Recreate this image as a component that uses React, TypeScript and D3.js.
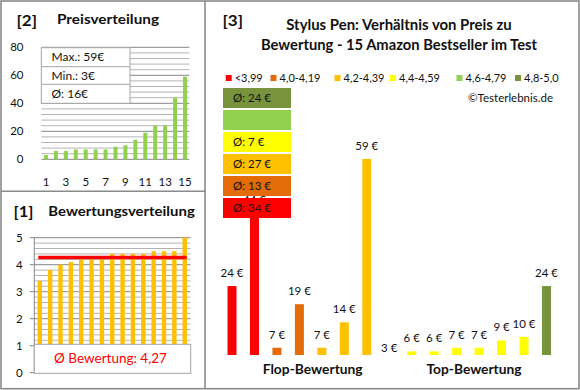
import React from "react";
import * as d3 from "d3";

// ---------- DATA ----------
const priceRank = [1, 2, 3, 4, 5, 6, 7, 8, 9, 10, 11, 12, 13, 14, 15];
const pricesSorted = [3, 6, 6, 7, 7, 7, 7, 9, 10, 14, 19, 24, 24, 44, 59];
const ratingsSorted = [3.4, 3.8, 4.0, 4.1, 4.2, 4.2, 4.2, 4.4, 4.4, 4.4, 4.4, 4.5, 4.5, 4.5, 5.0];
// products ordered by rating (flop -> top) with their price
const productRatings = [3.4, 3.8, 4.0, 4.1, 4.2, 4.2, 4.2, 4.4, 4.4, 4.4, 4.4, 4.5, 4.5, 4.5, 5.0];
const productPrices = [24, 44, 7, 19, 7, 14, 59, 3, 6, 6, 7, 7, 9, 10, 24];
const classLabels = ["<3,99", "4,0-4,19", "4,2-4,39", "4,4-4,59", "4,6-4,79", "4,8-5,0"];
const classThresholds = [4.0, 4.2, 4.4, 4.6, 4.8];
const classColors = ["#FF0000", "#E36C09", "#FFC000", "#FFFF00", "#92D050", "#77933C"];
const priceTicks = [0, 20, 40, 60, 80];
const ratingTicks = [0, 1, 2, 3, 4, 5];
const rankTickLabels = [1, 3, 5, 7, 9, 11, 13, 15];

// ---------- LAYOUT ----------
const W = 580;
const H = 390;
const FONT = "Lato, 'Open Sans', sans-serif";
const TXT = "#111";
const BORDER = "#8a8a8a";
const GRID_MINOR = "#b4b4b4";
const GRID_MAJOR = "#868686";

const fmt = (v: number, d = 0) => v.toFixed(d).replace(".", ",");

function PricePanel() {
  const x = d3.scalePoint<number>().domain(priceRank).range([46, 185]);
  const y = d3.scaleLinear().domain([0, 80]).range([159.3, 47.3]);
  const plotL = 41.3;
  const plotR = 189.3;
  const grid = d3.range(0, 81, 4);
  const mx = d3.max(pricesSorted)!;
  const mn = d3.min(pricesSorted)!;
  const avg = d3.mean(pricesSorted)!;
  const boxRows = [`Max.: ${mx}€`, `Min.: ${mn}€`, `Ø: ${Math.round(avg)}€`];
  const rowY = [47.7, 66.7, 84.3, 103.3];
  return (
    <g>
      <text x={16.5} y={25.5} fontSize={15.5} fontWeight="bold" fill={TXT} fontFamily={FONT} textLength={20.5} lengthAdjust="spacingAndGlyphs">[2]</text>
      <text x={57} y={24} fontSize={13} fontWeight="bold" fill={TXT} fontFamily={FONT} textLength={102} lengthAdjust="spacingAndGlyphs">Preisverteilung</text>
      {grid.map((g) => (
        <line key={g} x1={plotL} x2={plotR} y1={y(g)} y2={y(g)}
          stroke={g % 20 === 0 ? GRID_MAJOR : GRID_MINOR} strokeWidth={1} />
      ))}
      {priceTicks.map((t) => (
        <text key={t} x={23.5} y={y(t) + 4} fontSize={11.5} textAnchor="end" fill={TXT} fontFamily={FONT}>{t}</text>
      ))}
      {pricesSorted.map((v, i) => (
        <rect key={i} x={x(priceRank[i])! - 2} y={y(v)} width={4} height={y(0) - y(v)} fill="#92D050" />
      ))}
      {rankTickLabels.map((t) => (
        <text key={t} x={x(t)!} y={185.5} fontSize={11.5} textAnchor="middle" fill={TXT} fontFamily={FONT}>{t}</text>
      ))}
      <rect x={plotL} y={rowY[0]} width={88.7} height={rowY[3] - rowY[0]} fill="#fff" stroke="#a6a6a6" />
      {[1, 2].map((k) => (
        <line key={k} x1={plotL} x2={plotL + 88.7} y1={rowY[k]} y2={rowY[k]} stroke="#a6a6a6" />
      ))}
      {boxRows.map((t, k) => (
        <text key={k} x={51.5} y={(rowY[k] + rowY[k + 1]) / 2 + 4.2} fontSize={12} fill={TXT} fontFamily={FONT}>{t}</text>
      ))}
    </g>
  );
}

function RatingPanel() {
  const x = d3.scalePoint<number>().domain(priceRank).range([39.8, 184.7]);
  const y = d3.scaleLinear().domain([0, 5]).range([372.7, 237.7]);
  const plotL = 34.3;
  const plotR = 190.5;
  const grid = d3.range(0, 26).map((k) => k / 5);
  const avg = d3.mean(ratingsSorted)!;
  return (
    <g>
      <text x={13.5} y={216.5} fontSize={15.5} fontWeight="bold" fill={TXT} fontFamily={FONT} textLength={20} lengthAdjust="spacingAndGlyphs">[1]</text>
      <text x={48.3} y={215.5} fontSize={13} fontWeight="bold" fill={TXT} fontFamily={FONT} textLength={146.5} lengthAdjust="spacingAndGlyphs">Bewertungsverteilung</text>
      {grid.map((g, k) => (
        <line key={k} x1={plotL} x2={plotR} y1={y(g)} y2={y(g)}
          stroke={k % 5 === 0 ? GRID_MAJOR : GRID_MINOR} strokeWidth={1} />
      ))}
      <line x1={plotL} x2={plotL} y1={y(5)} y2={y(0)} stroke={GRID_MAJOR} />
      {ratingTicks.map((t) => (
        <g key={t}>
          <line x1={plotL - 4.5} x2={plotL} y1={y(t)} y2={y(t)} stroke={GRID_MAJOR} />
          <text x={19.3} y={y(t) + 4} fontSize={11.5} textAnchor="middle" fill={TXT} fontFamily={FONT}>{t}</text>
        </g>
      ))}
      {ratingsSorted.map((v, i) => (
        <rect key={i} x={x(priceRank[i])! - 2.2} y={y(v)} width={4.4} height={y(0) - y(v)} fill="#FFC000" />
      ))}
      <line x1={38.3} x2={186.7} y1={y(avg)} y2={y(avg)} stroke="#FF0000" strokeWidth={3.5} />
      <rect x={plotL} y={344.3} width={156.4} height={29} fill="#fff" stroke="#a6a6a6" />
      <text x={110.5} y={363} fontSize={13.5} textAnchor="middle" fill="#FF0000" fontFamily={FONT}>
        {`Ø Bewertung: ${fmt(avg, 2)}`}
      </text>
    </g>
  );
}

function MainPanel() {
  const x = d3.scalePoint<number>().domain(priceRank).range([232, 546.5]);
  const y = d3.scaleLinear().domain([5, 59]).range([355, 159]);
  const cls = d3.scaleThreshold<number, number>().domain(classThresholds).range([0, 1, 2, 3, 4, 5]);
  const classIdx = productRatings.map((r) => cls(r));
  const classAvg = classLabels.map((_, c) => {
    const vals = productPrices.filter((_, i) => classIdx[i] === c);
    return vals.length ? d3.mean(vals)! : null;
  });
  const legendX = [225.7, 270.5, 334.5, 390, 456.5, 515];
  const bw = 9;
  return (
    <g>
      <text x={222.5} y={25.5} fontSize={15.5} fontWeight="bold" fill={TXT} fontFamily={FONT} textLength={20.5} lengthAdjust="spacingAndGlyphs">[3]</text>
      <text x={399} y={30} fontSize={14.3} fontWeight="bold" textAnchor="middle" fill={TXT} fontFamily={FONT} textLength={225.5} lengthAdjust="spacingAndGlyphs">
        Stylus Pen: Verhältnis von Preis zu
      </text>
      <text x={399} y={50} fontSize={14.3} fontWeight="bold" textAnchor="middle" fill={TXT} fontFamily={FONT} textLength={276} lengthAdjust="spacingAndGlyphs">
        Bewertung - 15 Amazon Bestseller im Test
      </text>
      {classLabels.map((l, c) => (
        <g key={l}>
          <rect x={legendX[c]} y={75} width={6} height={6} fill={classColors[c]} />
          <text x={legendX[c] + 9} y={81.8} fontSize={11} fill={TXT} fontFamily={FONT}>{l}</text>
        </g>
      ))}
      <text x={553} y={102.3} fontSize={11.5} textAnchor="end" fill={TXT} fontFamily={FONT}>©Testerlebnis.de</text>
      {productPrices.map((v, i) => {
        const top = Math.min(y(v), 355);
        return (
          <g key={i}>
            <rect x={x(priceRank[i])! - bw / 2} y={top} width={bw} height={355 - top} fill={classColors[classIdx[i]]} />
            <text x={x(priceRank[i])!} y={Math.min(y(v) - 9, 352)} fontSize={11.5} textAnchor="middle" fill={TXT} fontFamily={FONT}>
              {`${v} €`}
            </text>
          </g>
        );
      })}
      {classLabels.map((l, c) => {
        const top = 198 - c * 22;
        const a = classAvg[c];
        return (
          <g key={l}>
            <rect x={223} y={top} width={68} height={20} fill={classColors[c]} />
            {a !== null && (
              <text x={233} y={top + 14} fontSize={11.5} fill={TXT} fontFamily={FONT}>{`Ø: ${Math.round(a)} €`}</text>
            )}
          </g>
        );
      })}
      <text x={312.7} y={373.5} fontSize={13.5} fontWeight="bold" textAnchor="middle" fill={TXT} fontFamily={FONT} textLength={100} lengthAdjust="spacingAndGlyphs">Flop-Bewertung</text>
      <text x={474} y={373.5} fontSize={13.5} fontWeight="bold" textAnchor="middle" fill={TXT} fontFamily={FONT} textLength={95} lengthAdjust="spacingAndGlyphs">Top-Bewertung</text>
    </g>
  );
}

export default function App() {
  return (
    <svg width={W} height={H} style={{ position: "fixed", left: 0, top: 0, background: "#fff" }}>
      <rect x={0} y={0} width={W} height={H} fill="#fff" />
      <PricePanel />
      <RatingPanel />
      <MainPanel />
      <rect x={1} y={1} width={578} height={387.7} fill="none" stroke={BORDER} strokeWidth={1.6} />
      <line x1={205} x2={205} y1={1} y2={388.7} stroke={BORDER} strokeWidth={1.6} />
      <line x1={1} x2={205} y1={191.3} y2={191.3} stroke={BORDER} strokeWidth={1.6} />
    </svg>
  );
}
